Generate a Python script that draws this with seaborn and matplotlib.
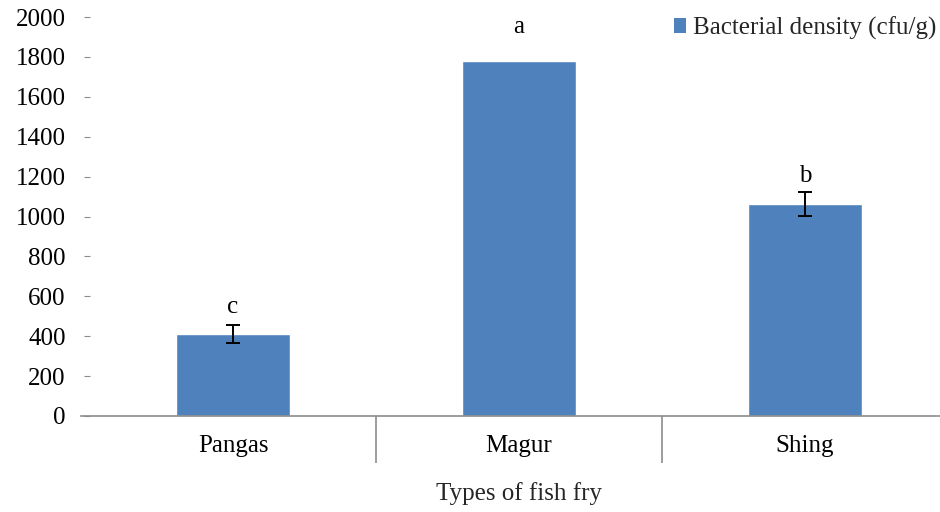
import matplotlib
matplotlib.use("Agg")
import matplotlib.pyplot as plt
import seaborn as sns
import pandas as pd
from matplotlib.patches import Patch

# Bacterial density per fry type
categories = ["Pangas", "Magur", "Shing"]
density = [410, 1780, 1065]
error = [45, 0, 60]
letters = ["c", "a", "b"]
yticks = [0, 200, 400, 600, 800, 1000, 1200, 1400, 1600, 1800, 2000]

sns.set_theme(style="white")
plt.rcParams["font.family"] = ["Liberation Serif", "DejaVu Serif"]

bar_color = "#4F81BD"
axis_gray = "#8C8C8C"

df = pd.DataFrame({"fry": categories, "density": density})

fig = plt.figure(figsize=(9.4, 5.12), dpi=100)
ax = fig.add_axes([90 / 940, 96 / 512, 858 / 940, 399 / 512])

sns.barplot(data=df, x="fry", y="density", color=bar_color, saturation=1,
            width=0.4, errorbar=None, ax=ax, zorder=2)

# error bars only where a spread was measured
for i, (v, e) in enumerate(zip(density, error)):
    if e > 0:
        ax.errorbar(i, v, yerr=e, fmt="none", ecolor="black",
                    elinewidth=1.4, capsize=5, capthick=1.4, zorder=3)

# significance letters above each bar
letter_offsets = [13, 24.5, 11.5]
for i, (v, e, lab) in enumerate(zip(density, error, letters)):
    ax.annotate(lab, xy=(i, v + e), xytext=(0, letter_offsets[i]),
                textcoords="offset points", ha="center", va="center",
                fontsize=18, color="black")

ax.set_ylim(0, 2000)
ax.set_xlim(-0.5, 2.5)
ax.set_yticks(yticks)
ax.set_yticklabels([str(t) for t in yticks], fontsize=18)
ax.tick_params(axis="y", left=True, length=4.5, width=0.8, color=axis_gray,
               pad=13, labelcolor="black")

# category separators below the axis line
ax.set_xticks([0.5, 1.5, 2.5], minor=True)
ax.tick_params(axis="x", which="minor", bottom=True, length=34, width=1.2,
               color=axis_gray, direction="out")
ax.tick_params(axis="x", which="major", length=0, pad=14, labelsize=18,
               labelcolor="black")

for side in ["left", "right", "top"]:
    ax.spines[side].set_visible(False)
ax.spines["bottom"].set_color(axis_gray)
ax.spines["bottom"].set_linewidth(1.2)
ax.spines["bottom"].set_bounds(-0.53, 2.5)
ax.spines["bottom"].set_zorder(4)

ax.set_xlabel("Types of fish fry", fontsize=18, labelpad=10)
ax.set_ylabel("")
ax.grid(False)

handle = Patch(facecolor=bar_color, edgecolor="none")
leg = fig.legend([handle], ["Bacterial density (cfu/g)"], loc="center right",
                 bbox_to_anchor=(936 / 940, 1 - 28 / 512),
                 frameon=False, fontsize=18, handlelength=0.5,
                 handleheight=0.5, handletextpad=0.25, borderpad=0,
                 borderaxespad=0)

fig.savefig("out.png", dpi=100, facecolor="white")
